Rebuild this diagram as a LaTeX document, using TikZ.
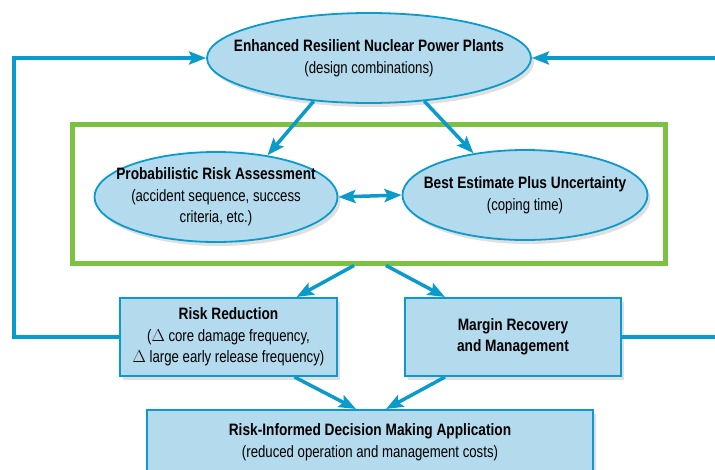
\documentclass[tikz,border=0pt]{standalone}
\usepackage{fontspec}
\setmainfont{Liberation Sans}[FakeStretch=0.8, BoldFeatures={FakeStretch=0.83}]
\usetikzlibrary{shapes.geometric,shadows,arrows.meta}
\definecolor{lineblue}{HTML}{0A9ACB}
\definecolor{fillblue}{HTML}{B4DAEE}
\definecolor{framegreen}{HTML}{7BC142}

\begin{document}
\begin{tikzpicture}[x=1pt, y=-1pt, ->, >={Stealth[length=17pt,width=13pt,inset=3pt]}, thick,
	oval node/.style={ellipse, draw=lineblue, line width=1.8pt, fill=fillblue, align=center, inner xsep=-30pt, inner ysep=0pt, font=\fontsize{16.5}{21.5}\selectfont, drop shadow={shadow xshift=3pt, shadow yshift=-4pt, opacity=0.25}},
	box node/.style={rectangle, draw=lineblue, line width=2pt, fill=fillblue, align=center, inner sep=0pt, font=\fontsize{16.5}{21.5}\selectfont, drop shadow={shadow xshift=3pt, shadow yshift=-4pt, opacity=0.25}},
	link/.style={draw=lineblue, line width=3.5pt}]
	\clip (0,0) rectangle (715,469);
	\node[oval node, minimum width=324pt, minimum height=90pt] (ERNPP) at (369,58) {\textbf{Enhanced Resilient Nuclear Power Plants}\\(design combinations)};
	\node[draw=framegreen, line width=5pt, minimum width=593pt, minimum height=139pt, inner sep=0pt] (frame) at (369,193.5) {};
	\node[oval node, minimum width=243pt, minimum height=90pt] (PRA) at (216,197) {\textbf{Probabilistic Risk Assessment}\\(accident sequence, success\\criteria, etc.)};
	\node[oval node, minimum width=245pt, minimum height=90pt] (BEPU) at (525,195) {\textbf{Best Estimate Plus Uncertainty}\\(coping time)};
	\node[box node, minimum width=217pt, minimum height=78pt] (RR) at (228.5,337) {\textbf{Risk Reduction}\\(\(\Delta\) core damage frequency,\\\(\Delta\) large early release frequency)};
	\node[box node, minimum width=216pt, minimum height=78pt] (MRM) at (513,337) {\textbf{Margin Recovery}\\\textbf{and Management}};
	\node[box node, minimum width=446pt, minimum height=64pt] (RIDM) at (370,442) {\textbf{Risk-Informed Decision Making Application}\\(reduced operation and management costs)};
	\coordinate (Lturn) at (14,337);
	\coordinate (Rturn) at (740,337);
	% arrows between the stages
	\draw[link] (ERNPP.218) -- (PRA.39);
	\draw[link] (ERNPP.322) -- (BEPU.141);
	\draw[link, <->] (PRA.east) -- (BEPU.west);
	\draw[link] ([xshift=-15pt]frame.south) -- ([xshift=68pt]RR.north);
	\draw[link] ([xshift=17pt]frame.south) -- ([xshift=-68pt]MRM.north);
	\draw[link] ([xshift=66pt]RR.south) -- ([xshift=-14pt]RIDM.north);
	\draw[link] ([xshift=-68pt]MRM.south) -- ([xshift=16pt]RIDM.north);
	% feedback loops
	\draw[link] (RR.west) -- (Lturn) |- (ERNPP.west);
	\draw[link] (MRM.east) -- (Rturn) |- (ERNPP.east);
\end{tikzpicture}
\end{document}
